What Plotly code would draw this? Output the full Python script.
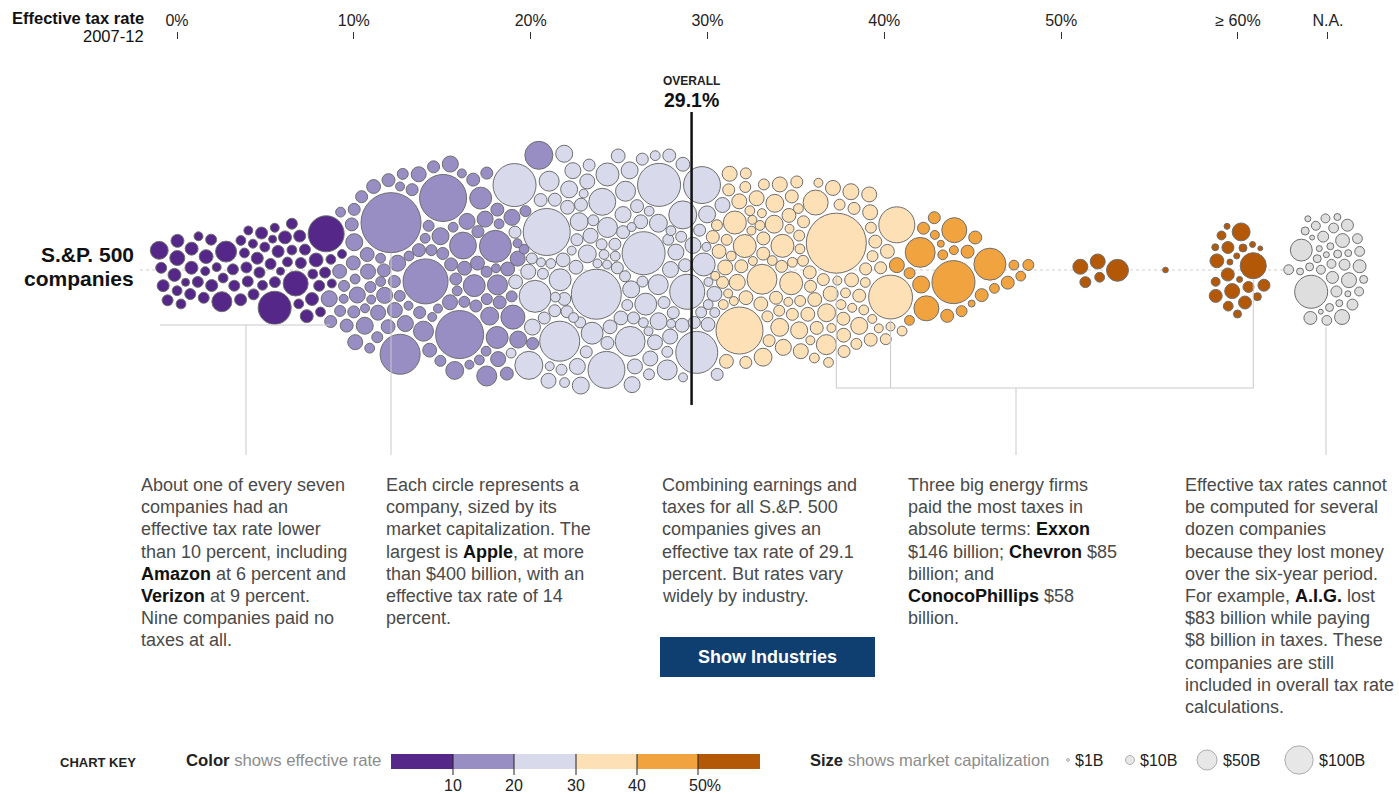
import numpy as np
import plotly.graph_objects as go

# ---------------- data ----------------
TICK_VALS = [0, 10, 20, 30, 40, 50, 60]
TICK_TEXT = ["0%", "10%", "20%", "30%", "40%", "50%", "≥ 60%"]
NA_LABEL = "N.A."
OVERALL_RATE = 29.1
KEY_BREAKS = [10, 20, 30, 40, 50]
KEY_BREAK_TEXT = ["10", "20", "30", "40", "50%"]
KEY_CAPS = [1, 10, 50, 100]
KEY_CAP_TEXT = ["$1B", "$10B", "$50B", "$100B"]
BAND_COLORS = ["#542788", "#998ec3", "#d8daeb", "#fee0b6", "#f1a340", "#b35806"]
NA_COLOR = "#dedede"

# effective tax rate (%) and market cap ($B), by band
RATE_A = [0, 0, 0, 0, 0, 0, 0, 0, 0.5, 0.7, 0.8, 0.9, 1.0, 1.1, 1.2, 1.3, 1.4, 1.8,
          2.0, 2.2, 2.4, 2.5, 2.8, 3.0, 3.2, 3.3, 3.5, 3.9,
          4.0, 4.2, 4.3, 4.4, 4.5, 4.6, 4.7, 4.8, 5.0, 5.1, 5.3, 5.5,
          5.7, 5.8, 6.0, 6.2, 6.3, 6.4, 6.6, 6.7, 6.8, 6.9,
          7.0, 7.2, 7.3, 7.4, 7.6, 7.8, 7.9, 8.0, 8.2, 8.4, 8.6,
          8.9, 9.0, 9.2, 9.4, 9.6]
CAP_A = [40, 21, 28, 15, 18, 21, 12, 15, 12, 8, 21, 15, 21, 10, 15, 24, 15, 10,
         15, 18, 10, 50, 12, 55, 15, 15, 12, 15,
         12, 18, 15, 10, 15, 18, 10, 15, 18, 12, 15, 8,
         15, 12, 136, 18, 10, 78, 21, 15, 8, 12,
         12, 15, 18, 12, 24, 21, 12, 15, 21, 15, 162,
         15, 12, 12, 10, 10]

RATE_B = [10.0, 10.1, 10.2, 10.3, 10.4, 10.5, 10.6, 10.7, 10.8, 10.9,
          11.0, 11.1, 11.2, 11.3, 11.4, 11.5, 11.6, 11.7, 11.8, 11.9,
          12.0, 12.1, 12.2, 12.3, 12.4, 12.5, 12.6, 12.7, 12.8, 12.9,
          13.1, 13.7, 14.2, 15.1, 16.2, 18.3, 19.5, 19.1, 16.0, 17.6, 17.0, 18.0,
          13.0, 13.2, 13.3, 13.4, 13.5, 13.6, 13.8, 13.9,
          14.0, 14.1, 14.3, 14.4, 14.5, 14.6, 14.7, 14.8, 14.9,
          15.0, 15.2, 15.3, 15.4, 15.5, 15.6, 15.7, 15.8, 15.9, 15.95,
          16.1, 16.3, 16.4, 16.5, 16.6, 16.7, 16.8, 16.9,
          17.1, 17.2, 17.3, 17.4, 17.5, 17.7, 17.8, 17.9,
          18.1, 18.2, 18.4, 18.5, 18.6, 18.7, 18.8, 18.9,
          19.0, 19.2, 19.3, 19.4, 19.6, 19.7, 19.8, 19.9,
          11.2, 12.4, 13.9, 15.4, 16.8, 17.6, 18.8, 19.4]
CAP_B = [18, 24, 12, 32, 15, 21, 10, 36, 18, 12,
         28, 15, 21, 10, 32, 18, 12, 24, 36, 15,
         21, 10, 28, 18, 12, 24, 15, 32, 10, 18,
         450, 200, 253, 276, 288, 128, 98, 72, 90, 60, 60, 60,
         15, 21, 12, 28, 18, 10, 24, 15,
         32, 12, 18, 36, 15, 10, 21, 18, 50,
         12, 24, 15, 32, 10, 18, 40, 21, 12, 15,
         18, 10, 28, 15, 50, 12, 21, 18,
         32, 10, 15, 24, 12, 40, 18, 15,
         21, 12, 50, 18, 10, 32, 15, 21,
         12, 18, 28, 10, 36, 15, 21, 12,
         24, 28, 32, 28, 24, 32, 28, 24]

RATE_C = [21.2, 24.4, 26.3, 20.3, 23.7, 26.4, 28.5, 27.9, 28.6, 21.8, 20.7, 20.1, 24.2, 27.6,
          24.9, 26.2, 24.5, 23.0, 21.6, 27.7, 28.8, 21.9, 27.0,
          20.0, 20.1, 20.2, 20.4, 20.5, 20.6, 20.8, 20.9,
          21.0, 21.1, 21.3, 21.4, 21.5, 21.7, 21.8, 21.9, 21.95,
          22.0, 22.1, 22.2, 22.3, 22.4, 22.5, 22.6, 22.7, 22.8, 22.9, 22.95,
          23.1, 23.2, 23.3, 23.4, 23.5, 23.6, 23.8, 23.9, 23.95,
          24.0, 24.1, 24.3, 24.6, 24.7, 24.8, 24.9, 24.95, 24.5,
          25.0, 25.1, 25.2, 25.3, 25.4, 25.5, 25.6, 25.7, 25.8, 25.9, 25.95,
          26.0, 26.1, 26.5, 26.6, 26.7, 26.8, 26.9, 26.95,
          27.1, 27.2, 27.3, 27.4, 27.5, 27.8, 27.85, 27.95,
          28.0, 28.1, 28.2, 28.3, 28.4, 28.7, 28.9, 28.95,
          29.0, 29.1, 29.2, 29.3, 29.4, 29.5, 29.6, 29.7, 29.8, 29.9,
          20.6, 21.4, 22.4, 23.3, 24.0, 25.2, 25.8, 26.6, 27.3, 28.2, 29.3, 22.8, 24.7, 26.9]
CAP_C = [276, 170, 231, 231, 312, 231, 220, 153, 170, 200, 128, 98, 91, 98,
         112, 60, 66, 60, 60, 50, 66, 50, 50,
         18, 12, 24, 15, 32, 10, 21, 18,
         12, 28, 15, 21, 10, 18, 36, 12, 24,
         18, 10, 32, 15, 21, 12, 40, 18, 15, 24, 10,
         18, 28, 12, 21, 15, 36, 10, 18, 24,
         15, 32, 12, 21, 18, 10, 28, 15, 50,
         21, 12, 36, 18, 10, 24, 15, 50, 18, 12, 28,
         15, 21, 12, 32, 18, 10, 24, 15,
         18, 12, 28, 15, 21, 10, 40, 18,
         12, 24, 15, 32, 10, 18, 21, 12,
         15, 28, 10, 18, 24, 12, 36, 15, 10, 18,
         28, 36, 32, 40, 28, 36, 32, 28, 36, 32, 28, 24, 24, 24]

RATE_D = [36.8, 31.4, 39.8, 39.9, 32.5, 31.0, 33.3, 34.8, 36.0, 36.2, 37.0, 37.9, 32.0, 33.5,
          33.7, 34.5, 33.8, 38.2, 30.6,
          30.0, 30.1, 30.2, 30.3, 30.4, 30.5, 30.7, 30.8, 30.9,
          31.1, 31.2, 31.3, 31.5, 31.6, 31.7, 31.8, 31.9, 31.95,
          32.1, 32.2, 32.3, 32.4, 32.6, 32.7, 32.8, 32.9, 32.95,
          33.0, 33.1, 33.2, 33.4, 33.6, 33.9, 33.95,
          34.0, 34.1, 34.2, 34.3, 34.4, 34.6, 34.7, 34.9, 34.95,
          35.0, 35.1, 35.2, 35.3, 35.4, 35.5, 35.6, 35.7, 35.8, 35.9,
          36.1, 36.3, 36.4, 36.5, 36.6, 36.7, 36.9,
          37.1, 37.2, 37.3, 37.4, 37.5, 37.6, 37.7, 37.8,
          38.0, 38.1, 38.3, 38.4, 38.5, 38.6, 38.7, 38.8, 38.9,
          39.0, 39.1, 39.2, 39.3, 39.4, 39.5, 39.6, 39.7,
          30.4, 31.2, 32.3, 33.2, 34.1, 35.3, 36.2, 37.4, 38.3, 35.8]
CAP_D = [450, 276, 240, 162, 112, 66, 40, 66, 78, 50, 40, 28, 66, 40,
         40, 66, 40, 36, 28,
         15, 10, 21, 12, 18, 28, 10, 15, 24,
         12, 18, 10, 32, 15, 21, 12, 18, 10,
         15, 24, 10, 18, 12, 28, 15, 21, 10,
         18, 12, 32, 10, 15, 21, 12,
         18, 10, 24, 15, 12, 21, 18, 10, 28,
         15, 12, 36, 18, 10, 21, 15, 12, 24, 18,
         10, 18, 12, 28, 15, 10, 21,
         15, 12, 24, 18, 10, 32, 15, 12,
         18, 10, 15, 21, 12, 28, 10, 18, 15,
         12, 21, 10, 18, 15, 12, 24, 10,
         24, 28, 24, 21, 28, 24, 21, 24, 21, 28]

RATE_E = [43.3, 45.5, 41.7, 41.4, 43.6, 41.6, 40.6, 44.4, 44.5, 44.0, 42.7, 40.5, 42.8,
          43.4, 44.1, 46.7, 47.4, 48.0, 46.4, 42.1, 42.6, 44.6, 40.9, 41.2, 45.0, 42.3]
CAP_E = [231, 128, 78, 112, 78, 36, 28, 21, 21, 21, 21, 15, 12,
         15, 10, 21, 12, 15, 12, 10, 6, 6, 18, 12, 12, 18]

RATE_F = [51.3, 51.9, 53.1, 51.4, 52.3, 55.9]
CAP_F = [15, 28, 60, 28, 12, 4]

RATE_G = [61, 63, 64, 66, 68, 70, 72, 75, 78, 80, 85, 88, 92, 95, 100, 105, 110, 120, 130,
          145, 160, 62, 67]
CAP_G = [18, 4.5, 21, 4.5, 8, 15, 18, 12, 3, 8, 28, 4.5, 8, 4.5, 10, 10, 24, 40, 21,
         6, 21, 85, 4.5]

CAP_NA = [136, 60, 28, 28, 24, 21, 21, 18, 18, 15, 15, 15, 12, 12, 12, 12, 10, 10, 10, 10,
          10, 8, 8, 8, 8, 8, 8, 6, 6, 6, 6, 6, 4.5, 4.5, 4.5, 4.5, 3, 3, 12, 15]

TEXT_BLOCKS = [
    (139, ["About one of every seven", "companies had an", "effective tax rate lower",
           "than 10 percent, including", "<b>Amazon</b> at 6 percent and",
           "<b>Verizon</b> at 9 percent.", "Nine companies paid no", "taxes at all."]),
    (384, ["Each circle represents a", "company, sized by its", "market capitalization. The",
           "largest is <b>Apple</b>, at more", "than $400 billion, with an",
           "effective tax rate of 14", "percent."]),
    (660, ["Combining earnings and", "taxes for all S.&P. 500", "companies gives an",
           "effective tax rate of 29.1", "percent. But rates vary", "widely by industry."]),
    (906, ["Three big energy firms", "paid the most taxes in", "absolute terms: <b>Exxon</b>",
           "$146 billion; <b>Chevron</b> $85", "billion; and", "<b>ConocoPhillips</b> $58",
           "billion."]),
    (1183, ["Effective tax rates cannot", "be computed for several", "dozen companies",
            "because they lost money", "over the six-year period.", "For example, <b>A.I.G.</b> lost",
            "$83 billion while paying", "$8 billion in taxes. These", "companies are still",
            "included in overall tax rate", "calculations."]),
]

# ---------------- layout constants ----------------
W, H = 1399, 794
X0_PX, PX_PER_PCT = 177.0, 17.683     # pixel of 0% and pixels per percentage point
NA_X = 65.09                          # N.A. column position (in % units)
CY = 270.0                            # centre line (pixel y)
K = 2.83                              # diameter px = K * sqrt(cap $B)
PAD = 1.6                             # half-gap between circles (px)
BODY = "Liberation Sans, Arial, sans-serif"
NARROW = "Liberation Sans Narrow, Arial Narrow, Liberation Sans, Arial, sans-serif"


def px2x(px):
    return (np.asarray(px, dtype=float) - X0_PX) / PX_PER_PCT


def xpix(rate):
    return X0_PX + PX_PER_PCT * np.asarray(rate, dtype=float)


# ---------------- assemble ----------------
bands = [(RATE_A, CAP_A), (RATE_B, CAP_B), (RATE_C, CAP_C), (RATE_D, CAP_D),
         (RATE_E, CAP_E), (RATE_F, CAP_F), (RATE_G, CAP_G)]
rates, caps, na = [], [], []
offsets = []
for r_, c_ in bands:
    m = min(len(r_), len(c_))
    offsets.append(len(rates))
    rates += list(r_[:m]); caps += list(c_[:m]); na += [False] * m
offsets.append(len(rates))
rates += [np.nan] * len(CAP_NA); caps += list(CAP_NA); na += [True] * len(CAP_NA)
rates = np.array(rates, float); caps = np.array(caps, float); na = np.array(na)
n = len(caps)

i_apple = offsets[1] + int(np.argmax(CAP_B))
i_exxon = offsets[3] + int(np.argmax(CAP_D))
i_chevron = offsets[3] + int(np.argsort(CAP_D)[-3])
i_conoco = offsets[6] + int(np.argmax(CAP_G))

diam = K * np.sqrt(caps)
rad = diam / 2 + PAD
tx = np.where(na, xpix(NA_X), xpix(np.minimum(np.nan_to_num(rates), 60)))
ty = np.full(n, CY)

# ---------------- beeswarm layout (force relaxation) ----------------
idx = np.arange(n)
x = tx + (((idx * 0.7548776662) % 1.0) - 0.5) * 30.0
y = CY + (((idx * 0.6180339887) % 1.0) - 0.5) * 80.0


def collide(x, y, relax=0.8):
    dx = x[:, None] - x[None, :]
    dy = y[:, None] - y[None, :]
    d2 = dx * dx + dy * dy
    md = rad[:, None] + rad[None, :]
    mask = d2 < md * md
    np.fill_diagonal(mask, False)
    ii, jj = np.nonzero(mask)
    if len(ii) == 0:
        return x, y, 0
    dist = np.sqrt(d2[ii, jj]) + 1e-6
    ov = md[ii, jj] - dist
    w = rad[jj] ** 2 / (rad[ii] ** 2 + rad[jj] ** 2)
    s = relax * ov * w / dist
    mx = np.bincount(ii, weights=s * dx[ii, jj], minlength=n)
    my = np.bincount(ii, weights=s * dy[ii, jj], minlength=n)
    return x + mx, y + my, len(ii)


for it in range(360):
    x += 0.10 * (tx - x)
    y += 0.035 * (ty - y)
    for _ in range(2):
        x, y, k = collide(x, y)
for _ in range(80):
    x, y, k = collide(x, y, 0.6)
    if k == 0:
        break


def color_of(rate, isna):
    if isna:
        return NA_COLOR
    b = int(min(max(rate, 0), 59.99) // 10)
    return BAND_COLORS[min(b, 5)]


colors = [color_of(r_, a_) for r_, a_ in zip(rates, na)]
xdata = px2x(x)

fig = go.Figure()
order = np.argsort(-diam)
fig.add_trace(go.Scatter(
    x=xdata[order], y=y[order], mode="markers",
    marker=dict(size=diam[order], color=[colors[i] for i in order],
                line=dict(color="#6e6e6e", width=1), opacity=1),
    hoverinfo="skip", showlegend=False, cliponaxis=False))

# key circles
key_px = np.array([1068, 1130, 1207, 1299], float)
key_d = K * np.sqrt(np.array(KEY_CAPS, float))
fig.add_trace(go.Scatter(
    x=px2x(key_px), y=[760] * 4, mode="markers",
    marker=dict(size=key_d, color="#dedede", line=dict(color="#8a8a8a", width=1)),
    hoverinfo="skip", showlegend=False, cliponaxis=False))

shapes = []
ann = []
GREY = "#c9c9c9"


def line(x0, y0, x1, y1, color=GREY, width=1, dash=None, layer="above"):
    shapes.append(dict(type="line", xref="x", yref="y", x0=px2x(x0), x1=px2x(x1), y0=y0, y1=y1,
                       line=dict(color=color, width=width, dash=dash), layer=layer))


def text(px, py, s, size=18, color="#4a4a4a", family=BODY, xanchor="left", yanchor="middle"):
    ann.append(dict(x=float(px2x(px)), y=py, xref="x", yref="y", text=s, showarrow=False,
                    xanchor=xanchor, yanchor=yanchor, font=dict(size=size, color=color, family=family)))


# centre dotted line
line(140, CY, 1300, CY, color="#cfcfcf", width=1.2, dash="dot", layer="below")

# low-rate bracket
line(160, 325, 330, 325)
line(246, 325, 246, 455)

# Apple leader
line(x[i_apple], y[i_apple] + diam[i_apple] / 2, x[i_apple], 455)

# energy leaders
yb = 388
for i in (i_exxon, i_chevron, i_conoco):
    line(x[i], y[i] + diam[i] / 2 + 1, x[i], yb)
line(x[i_exxon], yb, x[i_conoco], yb)
line(1016, yb, 1016, 455)

# N.A. leader
na_idx = np.where(na)[0]
na_bottom = np.max(y[na_idx] + diam[na_idx] / 2)
line(1326, na_bottom + 2, 1326, 455)

# overall line
shapes.append(dict(type="line", xref="x", yref="y", x0=OVERALL_RATE, x1=OVERALL_RATE, y0=112, y1=405,
                   line=dict(color="#111111", width=2.5), layer="above"))
ann.append(dict(x=OVERALL_RATE, y=81, xref="x", yref="y", text="<b>OVERALL</b>", showarrow=False,
                font=dict(size=12, color="#222", family=BODY)))
ann.append(dict(x=OVERALL_RATE, y=100, xref="x", yref="y", text="<b>29.1%</b>", showarrow=False,
                font=dict(size=19.5, color="#111", family=BODY)))

# header
ann.append(dict(x=146 / W, y=(794 - 18) / 754, xref="paper", yref="paper", text="<b>Effective tax rate</b>",
                showarrow=False, xanchor="right", yanchor="middle",
                font=dict(size=16.5, color="#111", family=NARROW)))
ann.append(dict(x=146 / W, y=(794 - 36) / 754, xref="paper", yref="paper", text="2007-12",
                showarrow=False, xanchor="right", yanchor="middle",
                font=dict(size=16.5, color="#111", family=NARROW)))

# row label
text(136, 254, "<b>S.&P. 500</b>", size=21, color="#111", xanchor="right")
text(136, 278, "<b>companies</b>", size=21, color="#111", xanchor="right")

# annotation blocks
for px, lines in TEXT_BLOCKS:
    for k, s in enumerate(lines):
        s2 = s.replace("<b>", '<span style="color:#111"><b>').replace("</b>", "</b></span>")
        text(px, 485 + 22.2 * k, s2)

# button
shapes.append(dict(type="rect", xref="x", yref="y", x0=px2x(660), x1=px2x(875), y0=637, y1=677,
                   fillcolor="#0f3e70", line=dict(width=0), layer="above"))
text(767.5, 657, "<b>Show Industries</b>", size=18, color="#ffffff", xanchor="center")

# chart key: colour
text(58, 762, "<b>CHART KEY</b>", size=13, color="#222", family=NARROW)
text(184, 760, '<b>Color</b> <span style="color:#8c8c8c">shows effective rate</span>', size=16.7,
     color="#222", family=NARROW)
seg = [391, 453, 514, 576, 637, 698, 760]
for k in range(6):
    shapes.append(dict(type="rect", xref="x", yref="y", x0=px2x(seg[k]), x1=px2x(seg[k + 1]),
                       y0=754, y1=769, fillcolor=BAND_COLORS[k], line=dict(width=0), layer="below"))
for k, (b, t) in enumerate(zip(KEY_BREAKS, KEY_BREAK_TEXT)):
    line(seg[k + 1], 754, seg[k + 1], 775, color="#222", width=1)
    text(seg[k + 1] + (7 if k == 4 else 0), 785, t, size=16, color="#222", family=NARROW, xanchor="center")

# chart key: size
text(808, 760, '<b>Size</b> <span style="color:#8c8c8c">shows market capitalization</span>', size=16.5,
     color="#222", family=NARROW)
for px, dd, t in zip(key_px, key_d, KEY_CAP_TEXT):
    text(px + dd / 2 + 4, 760, t, size=16, color="#222", family=NARROW)

fig.update_layout(
    width=W, height=H, margin=dict(l=0, r=0, t=40, b=0),
    paper_bgcolor="white", plot_bgcolor="white",
    shapes=shapes, annotations=ann, showlegend=False,
    xaxis=dict(range=[float(px2x(0)), float(px2x(W))], side="top", showgrid=False, zeroline=False,
               showline=False, tickvals=TICK_VALS + [NA_X], ticktext=TICK_TEXT + [NA_LABEL],
               ticks="outside", ticklen=7, tickwidth=1, tickcolor="#333",
               tickfont=dict(size=16, color="#222", family=NARROW), fixedrange=True),
    yaxis=dict(range=[794, 40], visible=False, fixedrange=True),
)

fig.write_html("out.html", config={"displayModeBar": False},
               post_script="document.body.style.margin='0';document.body.style.overflow='hidden';")
